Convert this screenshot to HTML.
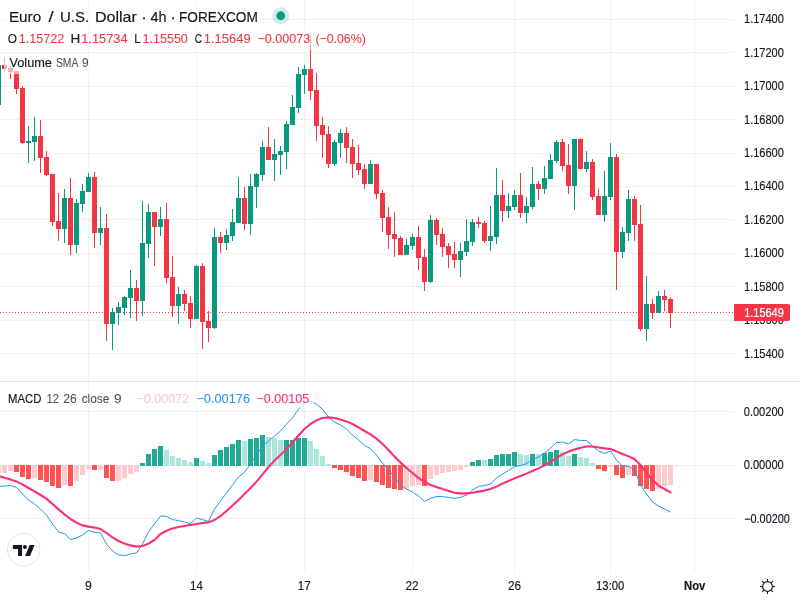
<!DOCTYPE html>
<html><head><meta charset="utf-8"><title>EURUSD chart</title>
<style>
html,body{margin:0;padding:0;background:#fff;width:800px;height:600px;overflow:hidden}
svg{display:block}
text{font-family:"Liberation Sans",sans-serif;white-space:pre}
</style></head><body>
<svg width="800" height="600" viewBox="0 0 800 600">
<rect width="800" height="600" fill="#fff"/>
<g fill="#2a2e39" fill-opacity="0.065" shape-rendering="crispEdges">
<rect x="0" y="19" width="734" height="1"/>
<rect x="0" y="52" width="734" height="1"/>
<rect x="0" y="86" width="734" height="1"/>
<rect x="0" y="119" width="734" height="1"/>
<rect x="0" y="153" width="734" height="1"/>
<rect x="0" y="186" width="734" height="1"/>
<rect x="0" y="219" width="734" height="1"/>
<rect x="0" y="253" width="734" height="1"/>
<rect x="0" y="286" width="734" height="1"/>
<rect x="0" y="320" width="734" height="1"/>
<rect x="0" y="353" width="734" height="1"/>
<rect x="0" y="411" width="734" height="1"/>
<rect x="0" y="465" width="734" height="1"/>
<rect x="0" y="518" width="734" height="1"/>
<rect x="88" y="0" width="1" height="572"/>
<rect x="196" y="0" width="1" height="572"/>
<rect x="304" y="0" width="1" height="572"/>
<rect x="412" y="0" width="1" height="572"/>
<rect x="514" y="0" width="1" height="572"/>
<rect x="610" y="0" width="1" height="572"/>
<rect x="694" y="0" width="1" height="572"/>
</g>
<rect x="0" y="381" width="800" height="1" fill="#e0e3eb" shape-rendering="crispEdges"/>
<g fill="#089981" shape-rendering="crispEdges">
<rect x="-2" y="65" width="1" height="40"/><rect x="-4" y="65" width="5" height="40"/>
<rect x="28" y="126" width="1" height="37"/><rect x="26" y="141" width="5" height="2"/>
<rect x="34" y="117" width="1" height="44"/><rect x="32" y="136" width="5" height="6"/>
<rect x="64" y="189" width="1" height="54"/><rect x="62" y="198" width="5" height="31"/>
<rect x="76" y="199" width="1" height="54"/><rect x="74" y="203" width="5" height="42"/>
<rect x="82" y="184" width="1" height="28"/><rect x="80" y="191" width="5" height="13"/>
<rect x="88" y="173" width="1" height="19"/><rect x="86" y="177" width="5" height="15"/>
<rect x="100" y="207" width="1" height="38"/><rect x="98" y="228" width="5" height="5"/>
<rect x="112" y="308" width="1" height="42"/><rect x="110" y="312" width="5" height="12"/>
<rect x="118" y="302" width="1" height="23"/><rect x="116" y="307" width="5" height="6"/>
<rect x="124" y="296" width="1" height="19"/><rect x="122" y="297" width="5" height="11"/>
<rect x="130" y="270" width="1" height="48"/><rect x="128" y="288" width="5" height="10"/>
<rect x="142" y="201" width="1" height="115"/><rect x="140" y="243" width="5" height="58"/>
<rect x="148" y="204" width="1" height="54"/><rect x="146" y="212" width="5" height="32"/>
<rect x="160" y="207" width="1" height="29"/><rect x="158" y="219" width="5" height="8"/>
<rect x="178" y="287" width="1" height="37"/><rect x="176" y="294" width="5" height="12"/>
<rect x="196" y="265" width="1" height="54"/><rect x="194" y="266" width="5" height="53"/>
<rect x="214" y="228" width="1" height="101"/><rect x="212" y="237" width="5" height="91"/>
<rect x="226" y="229" width="1" height="21"/><rect x="224" y="235" width="5" height="8"/>
<rect x="232" y="209" width="1" height="32"/><rect x="230" y="222" width="5" height="14"/>
<rect x="238" y="177" width="1" height="46"/><rect x="236" y="198" width="5" height="25"/>
<rect x="250" y="174" width="1" height="61"/><rect x="248" y="186" width="5" height="38"/>
<rect x="256" y="173" width="1" height="35"/><rect x="254" y="174" width="5" height="13"/>
<rect x="262" y="141" width="1" height="40"/><rect x="260" y="147" width="5" height="28"/>
<rect x="274" y="139" width="1" height="42"/><rect x="272" y="154" width="5" height="6"/>
<rect x="280" y="146" width="1" height="29"/><rect x="278" y="151" width="5" height="4"/>
<rect x="286" y="121" width="1" height="48"/><rect x="284" y="124" width="5" height="28"/>
<rect x="292" y="95" width="1" height="30"/><rect x="290" y="107" width="5" height="18"/>
<rect x="298" y="67" width="1" height="46"/><rect x="296" y="74" width="5" height="34"/>
<rect x="304" y="65" width="1" height="29"/><rect x="302" y="69" width="5" height="6"/>
<rect x="334" y="140" width="1" height="26"/><rect x="332" y="142" width="5" height="22"/>
<rect x="340" y="129" width="1" height="29"/><rect x="338" y="133" width="5" height="10"/>
<rect x="370" y="160" width="1" height="24"/><rect x="368" y="164" width="5" height="20"/>
<rect x="406" y="239" width="1" height="16"/><rect x="404" y="245" width="5" height="10"/>
<rect x="412" y="234" width="1" height="16"/><rect x="410" y="237" width="5" height="9"/>
<rect x="430" y="215" width="1" height="68"/><rect x="428" y="220" width="5" height="62"/>
<rect x="460" y="243" width="1" height="34"/><rect x="458" y="251" width="5" height="9"/>
<rect x="466" y="219" width="1" height="37"/><rect x="464" y="241" width="5" height="11"/>
<rect x="472" y="219" width="1" height="27"/><rect x="470" y="222" width="5" height="20"/>
<rect x="490" y="206" width="1" height="45"/><rect x="488" y="236" width="5" height="5"/>
<rect x="496" y="168" width="1" height="76"/><rect x="494" y="195" width="5" height="42"/>
<rect x="508" y="193" width="1" height="25"/><rect x="506" y="206" width="5" height="5"/>
<rect x="514" y="190" width="1" height="20"/><rect x="512" y="195" width="5" height="12"/>
<rect x="526" y="197" width="1" height="26"/><rect x="524" y="206" width="5" height="7"/>
<rect x="532" y="167" width="1" height="42"/><rect x="530" y="184" width="5" height="23"/>
<rect x="544" y="166" width="1" height="28"/><rect x="542" y="178" width="5" height="11"/>
<rect x="550" y="154" width="1" height="25"/><rect x="548" y="160" width="5" height="19"/>
<rect x="556" y="140" width="1" height="23"/><rect x="554" y="142" width="5" height="19"/>
<rect x="574" y="139" width="1" height="71"/><rect x="572" y="139" width="5" height="47"/>
<rect x="586" y="151" width="1" height="21"/><rect x="584" y="162" width="5" height="7"/>
<rect x="604" y="171" width="1" height="51"/><rect x="602" y="196" width="5" height="19"/>
<rect x="610" y="143" width="1" height="57"/><rect x="608" y="157" width="5" height="40"/>
<rect x="622" y="227" width="1" height="31"/><rect x="620" y="232" width="5" height="20"/>
<rect x="628" y="190" width="1" height="51"/><rect x="626" y="199" width="5" height="34"/>
<rect x="646" y="276" width="1" height="65"/><rect x="644" y="304" width="5" height="25"/>
<rect x="658" y="291" width="1" height="22"/><rect x="656" y="296" width="5" height="17"/>
</g>
<g fill="#f23645" shape-rendering="crispEdges">
<rect x="4" y="57" width="1" height="15"/><rect x="2" y="65" width="5" height="4"/>
<rect x="10" y="66" width="1" height="13"/><rect x="8" y="68" width="5" height="4"/>
<rect x="16" y="71" width="1" height="23"/><rect x="14" y="71" width="5" height="18"/>
<rect x="22" y="86" width="1" height="58"/><rect x="20" y="88" width="5" height="55"/>
<rect x="40" y="120" width="1" height="53"/><rect x="38" y="136" width="5" height="22"/>
<rect x="46" y="151" width="1" height="25"/><rect x="44" y="157" width="5" height="18"/>
<rect x="52" y="174" width="1" height="52"/><rect x="50" y="174" width="5" height="48"/>
<rect x="58" y="193" width="1" height="48"/><rect x="56" y="221" width="5" height="8"/>
<rect x="70" y="178" width="1" height="77"/><rect x="68" y="198" width="5" height="47"/>
<rect x="94" y="172" width="1" height="76"/><rect x="92" y="177" width="5" height="56"/>
<rect x="106" y="214" width="1" height="127"/><rect x="104" y="228" width="5" height="96"/>
<rect x="136" y="280" width="1" height="41"/><rect x="134" y="288" width="5" height="13"/>
<rect x="154" y="212" width="1" height="54"/><rect x="152" y="212" width="5" height="15"/>
<rect x="166" y="203" width="1" height="80"/><rect x="164" y="219" width="5" height="59"/>
<rect x="172" y="256" width="1" height="61"/><rect x="170" y="277" width="5" height="29"/>
<rect x="184" y="290" width="1" height="21"/><rect x="182" y="294" width="5" height="10"/>
<rect x="190" y="296" width="1" height="32"/><rect x="188" y="303" width="5" height="16"/>
<rect x="202" y="263" width="1" height="86"/><rect x="200" y="266" width="5" height="56"/>
<rect x="208" y="311" width="1" height="31"/><rect x="206" y="321" width="5" height="7"/>
<rect x="220" y="232" width="1" height="21"/><rect x="218" y="237" width="5" height="6"/>
<rect x="244" y="187" width="1" height="43"/><rect x="242" y="198" width="5" height="26"/>
<rect x="268" y="127" width="1" height="33"/><rect x="266" y="147" width="5" height="13"/>
<rect x="310" y="36" width="1" height="64"/><rect x="308" y="69" width="5" height="22"/>
<rect x="316" y="73" width="1" height="68"/><rect x="314" y="90" width="5" height="36"/>
<rect x="322" y="117" width="1" height="41"/><rect x="320" y="125" width="5" height="10"/>
<rect x="328" y="126" width="1" height="42"/><rect x="326" y="134" width="5" height="30"/>
<rect x="346" y="127" width="1" height="36"/><rect x="344" y="133" width="5" height="15"/>
<rect x="352" y="139" width="1" height="39"/><rect x="350" y="147" width="5" height="17"/>
<rect x="358" y="145" width="1" height="30"/><rect x="356" y="163" width="5" height="7"/>
<rect x="364" y="164" width="1" height="25"/><rect x="362" y="169" width="5" height="15"/>
<rect x="376" y="164" width="1" height="35"/><rect x="374" y="164" width="5" height="30"/>
<rect x="382" y="190" width="1" height="42"/><rect x="380" y="193" width="5" height="25"/>
<rect x="388" y="207" width="1" height="42"/><rect x="386" y="217" width="5" height="18"/>
<rect x="394" y="212" width="1" height="45"/><rect x="392" y="234" width="5" height="5"/>
<rect x="400" y="236" width="1" height="19"/><rect x="398" y="238" width="5" height="17"/>
<rect x="418" y="226" width="1" height="44"/><rect x="416" y="237" width="5" height="21"/>
<rect x="424" y="249" width="1" height="42"/><rect x="422" y="257" width="5" height="25"/>
<rect x="436" y="218" width="1" height="27"/><rect x="434" y="220" width="5" height="15"/>
<rect x="442" y="228" width="1" height="29"/><rect x="440" y="234" width="5" height="13"/>
<rect x="448" y="243" width="1" height="25"/><rect x="446" y="246" width="5" height="9"/>
<rect x="454" y="242" width="1" height="26"/><rect x="452" y="254" width="5" height="6"/>
<rect x="478" y="217" width="1" height="11"/><rect x="476" y="222" width="5" height="2"/>
<rect x="484" y="221" width="1" height="22"/><rect x="482" y="223" width="5" height="18"/>
<rect x="502" y="180" width="1" height="42"/><rect x="500" y="195" width="5" height="16"/>
<rect x="520" y="173" width="1" height="45"/><rect x="518" y="195" width="5" height="18"/>
<rect x="538" y="181" width="1" height="19"/><rect x="536" y="184" width="5" height="5"/>
<rect x="562" y="139" width="1" height="32"/><rect x="560" y="142" width="5" height="24"/>
<rect x="568" y="144" width="1" height="50"/><rect x="566" y="165" width="5" height="21"/>
<rect x="580" y="138" width="1" height="31"/><rect x="578" y="139" width="5" height="30"/>
<rect x="592" y="159" width="1" height="41"/><rect x="590" y="162" width="5" height="35"/>
<rect x="598" y="189" width="1" height="26"/><rect x="596" y="196" width="5" height="19"/>
<rect x="616" y="154" width="1" height="136"/><rect x="614" y="157" width="5" height="95"/>
<rect x="634" y="196" width="1" height="45"/><rect x="632" y="199" width="5" height="26"/>
<rect x="640" y="205" width="1" height="126"/><rect x="638" y="224" width="5" height="105"/>
<rect x="652" y="299" width="1" height="20"/><rect x="650" y="304" width="5" height="9"/>
<rect x="664" y="290" width="1" height="21"/><rect x="662" y="296" width="5" height="4"/>
<rect x="670" y="297" width="1" height="31"/><rect x="668" y="299" width="5" height="14"/>
</g>
<g fill="#f23645" shape-rendering="crispEdges">
<rect x="0" y="312" width="1" height="1"/><rect x="3" y="312" width="1" height="1"/><rect x="6" y="312" width="1" height="1"/><rect x="9" y="312" width="1" height="1"/><rect x="12" y="312" width="1" height="1"/><rect x="15" y="312" width="1" height="1"/><rect x="18" y="312" width="1" height="1"/><rect x="21" y="312" width="1" height="1"/><rect x="24" y="312" width="1" height="1"/><rect x="27" y="312" width="1" height="1"/><rect x="30" y="312" width="1" height="1"/><rect x="33" y="312" width="1" height="1"/><rect x="36" y="312" width="1" height="1"/><rect x="39" y="312" width="1" height="1"/><rect x="42" y="312" width="1" height="1"/><rect x="45" y="312" width="1" height="1"/><rect x="48" y="312" width="1" height="1"/><rect x="51" y="312" width="1" height="1"/><rect x="54" y="312" width="1" height="1"/><rect x="57" y="312" width="1" height="1"/><rect x="60" y="312" width="1" height="1"/><rect x="63" y="312" width="1" height="1"/><rect x="66" y="312" width="1" height="1"/><rect x="69" y="312" width="1" height="1"/><rect x="72" y="312" width="1" height="1"/><rect x="75" y="312" width="1" height="1"/><rect x="78" y="312" width="1" height="1"/><rect x="81" y="312" width="1" height="1"/><rect x="84" y="312" width="1" height="1"/><rect x="87" y="312" width="1" height="1"/><rect x="90" y="312" width="1" height="1"/><rect x="93" y="312" width="1" height="1"/><rect x="96" y="312" width="1" height="1"/><rect x="99" y="312" width="1" height="1"/><rect x="102" y="312" width="1" height="1"/><rect x="105" y="312" width="1" height="1"/><rect x="108" y="312" width="1" height="1"/><rect x="111" y="312" width="1" height="1"/><rect x="114" y="312" width="1" height="1"/><rect x="117" y="312" width="1" height="1"/><rect x="120" y="312" width="1" height="1"/><rect x="123" y="312" width="1" height="1"/><rect x="126" y="312" width="1" height="1"/><rect x="129" y="312" width="1" height="1"/><rect x="132" y="312" width="1" height="1"/><rect x="135" y="312" width="1" height="1"/><rect x="138" y="312" width="1" height="1"/><rect x="141" y="312" width="1" height="1"/><rect x="144" y="312" width="1" height="1"/><rect x="147" y="312" width="1" height="1"/><rect x="150" y="312" width="1" height="1"/><rect x="153" y="312" width="1" height="1"/><rect x="156" y="312" width="1" height="1"/><rect x="159" y="312" width="1" height="1"/><rect x="162" y="312" width="1" height="1"/><rect x="165" y="312" width="1" height="1"/><rect x="168" y="312" width="1" height="1"/><rect x="171" y="312" width="1" height="1"/><rect x="174" y="312" width="1" height="1"/><rect x="177" y="312" width="1" height="1"/><rect x="180" y="312" width="1" height="1"/><rect x="183" y="312" width="1" height="1"/><rect x="186" y="312" width="1" height="1"/><rect x="189" y="312" width="1" height="1"/><rect x="192" y="312" width="1" height="1"/><rect x="195" y="312" width="1" height="1"/><rect x="198" y="312" width="1" height="1"/><rect x="201" y="312" width="1" height="1"/><rect x="204" y="312" width="1" height="1"/><rect x="207" y="312" width="1" height="1"/><rect x="210" y="312" width="1" height="1"/><rect x="213" y="312" width="1" height="1"/><rect x="216" y="312" width="1" height="1"/><rect x="219" y="312" width="1" height="1"/><rect x="222" y="312" width="1" height="1"/><rect x="225" y="312" width="1" height="1"/><rect x="228" y="312" width="1" height="1"/><rect x="231" y="312" width="1" height="1"/><rect x="234" y="312" width="1" height="1"/><rect x="237" y="312" width="1" height="1"/><rect x="240" y="312" width="1" height="1"/><rect x="243" y="312" width="1" height="1"/><rect x="246" y="312" width="1" height="1"/><rect x="249" y="312" width="1" height="1"/><rect x="252" y="312" width="1" height="1"/><rect x="255" y="312" width="1" height="1"/><rect x="258" y="312" width="1" height="1"/><rect x="261" y="312" width="1" height="1"/><rect x="264" y="312" width="1" height="1"/><rect x="267" y="312" width="1" height="1"/><rect x="270" y="312" width="1" height="1"/><rect x="273" y="312" width="1" height="1"/><rect x="276" y="312" width="1" height="1"/><rect x="279" y="312" width="1" height="1"/><rect x="282" y="312" width="1" height="1"/><rect x="285" y="312" width="1" height="1"/><rect x="288" y="312" width="1" height="1"/><rect x="291" y="312" width="1" height="1"/><rect x="294" y="312" width="1" height="1"/><rect x="297" y="312" width="1" height="1"/><rect x="300" y="312" width="1" height="1"/><rect x="303" y="312" width="1" height="1"/><rect x="306" y="312" width="1" height="1"/><rect x="309" y="312" width="1" height="1"/><rect x="312" y="312" width="1" height="1"/><rect x="315" y="312" width="1" height="1"/><rect x="318" y="312" width="1" height="1"/><rect x="321" y="312" width="1" height="1"/><rect x="324" y="312" width="1" height="1"/><rect x="327" y="312" width="1" height="1"/><rect x="330" y="312" width="1" height="1"/><rect x="333" y="312" width="1" height="1"/><rect x="336" y="312" width="1" height="1"/><rect x="339" y="312" width="1" height="1"/><rect x="342" y="312" width="1" height="1"/><rect x="345" y="312" width="1" height="1"/><rect x="348" y="312" width="1" height="1"/><rect x="351" y="312" width="1" height="1"/><rect x="354" y="312" width="1" height="1"/><rect x="357" y="312" width="1" height="1"/><rect x="360" y="312" width="1" height="1"/><rect x="363" y="312" width="1" height="1"/><rect x="366" y="312" width="1" height="1"/><rect x="369" y="312" width="1" height="1"/><rect x="372" y="312" width="1" height="1"/><rect x="375" y="312" width="1" height="1"/><rect x="378" y="312" width="1" height="1"/><rect x="381" y="312" width="1" height="1"/><rect x="384" y="312" width="1" height="1"/><rect x="387" y="312" width="1" height="1"/><rect x="390" y="312" width="1" height="1"/><rect x="393" y="312" width="1" height="1"/><rect x="396" y="312" width="1" height="1"/><rect x="399" y="312" width="1" height="1"/><rect x="402" y="312" width="1" height="1"/><rect x="405" y="312" width="1" height="1"/><rect x="408" y="312" width="1" height="1"/><rect x="411" y="312" width="1" height="1"/><rect x="414" y="312" width="1" height="1"/><rect x="417" y="312" width="1" height="1"/><rect x="420" y="312" width="1" height="1"/><rect x="423" y="312" width="1" height="1"/><rect x="426" y="312" width="1" height="1"/><rect x="429" y="312" width="1" height="1"/><rect x="432" y="312" width="1" height="1"/><rect x="435" y="312" width="1" height="1"/><rect x="438" y="312" width="1" height="1"/><rect x="441" y="312" width="1" height="1"/><rect x="444" y="312" width="1" height="1"/><rect x="447" y="312" width="1" height="1"/><rect x="450" y="312" width="1" height="1"/><rect x="453" y="312" width="1" height="1"/><rect x="456" y="312" width="1" height="1"/><rect x="459" y="312" width="1" height="1"/><rect x="462" y="312" width="1" height="1"/><rect x="465" y="312" width="1" height="1"/><rect x="468" y="312" width="1" height="1"/><rect x="471" y="312" width="1" height="1"/><rect x="474" y="312" width="1" height="1"/><rect x="477" y="312" width="1" height="1"/><rect x="480" y="312" width="1" height="1"/><rect x="483" y="312" width="1" height="1"/><rect x="486" y="312" width="1" height="1"/><rect x="489" y="312" width="1" height="1"/><rect x="492" y="312" width="1" height="1"/><rect x="495" y="312" width="1" height="1"/><rect x="498" y="312" width="1" height="1"/><rect x="501" y="312" width="1" height="1"/><rect x="504" y="312" width="1" height="1"/><rect x="507" y="312" width="1" height="1"/><rect x="510" y="312" width="1" height="1"/><rect x="513" y="312" width="1" height="1"/><rect x="516" y="312" width="1" height="1"/><rect x="519" y="312" width="1" height="1"/><rect x="522" y="312" width="1" height="1"/><rect x="525" y="312" width="1" height="1"/><rect x="528" y="312" width="1" height="1"/><rect x="531" y="312" width="1" height="1"/><rect x="534" y="312" width="1" height="1"/><rect x="537" y="312" width="1" height="1"/><rect x="540" y="312" width="1" height="1"/><rect x="543" y="312" width="1" height="1"/><rect x="546" y="312" width="1" height="1"/><rect x="549" y="312" width="1" height="1"/><rect x="552" y="312" width="1" height="1"/><rect x="555" y="312" width="1" height="1"/><rect x="558" y="312" width="1" height="1"/><rect x="561" y="312" width="1" height="1"/><rect x="564" y="312" width="1" height="1"/><rect x="567" y="312" width="1" height="1"/><rect x="570" y="312" width="1" height="1"/><rect x="573" y="312" width="1" height="1"/><rect x="576" y="312" width="1" height="1"/><rect x="579" y="312" width="1" height="1"/><rect x="582" y="312" width="1" height="1"/><rect x="585" y="312" width="1" height="1"/><rect x="588" y="312" width="1" height="1"/><rect x="591" y="312" width="1" height="1"/><rect x="594" y="312" width="1" height="1"/><rect x="597" y="312" width="1" height="1"/><rect x="600" y="312" width="1" height="1"/><rect x="603" y="312" width="1" height="1"/><rect x="606" y="312" width="1" height="1"/><rect x="609" y="312" width="1" height="1"/><rect x="612" y="312" width="1" height="1"/><rect x="615" y="312" width="1" height="1"/><rect x="618" y="312" width="1" height="1"/><rect x="621" y="312" width="1" height="1"/><rect x="624" y="312" width="1" height="1"/><rect x="627" y="312" width="1" height="1"/><rect x="630" y="312" width="1" height="1"/><rect x="633" y="312" width="1" height="1"/><rect x="636" y="312" width="1" height="1"/><rect x="639" y="312" width="1" height="1"/><rect x="642" y="312" width="1" height="1"/><rect x="645" y="312" width="1" height="1"/><rect x="648" y="312" width="1" height="1"/><rect x="651" y="312" width="1" height="1"/><rect x="654" y="312" width="1" height="1"/><rect x="657" y="312" width="1" height="1"/><rect x="660" y="312" width="1" height="1"/><rect x="663" y="312" width="1" height="1"/><rect x="666" y="312" width="1" height="1"/><rect x="669" y="312" width="1" height="1"/><rect x="672" y="312" width="1" height="1"/><rect x="675" y="312" width="1" height="1"/><rect x="678" y="312" width="1" height="1"/><rect x="681" y="312" width="1" height="1"/><rect x="684" y="312" width="1" height="1"/><rect x="687" y="312" width="1" height="1"/><rect x="690" y="312" width="1" height="1"/><rect x="693" y="312" width="1" height="1"/><rect x="696" y="312" width="1" height="1"/><rect x="699" y="312" width="1" height="1"/><rect x="702" y="312" width="1" height="1"/><rect x="705" y="312" width="1" height="1"/><rect x="708" y="312" width="1" height="1"/><rect x="711" y="312" width="1" height="1"/><rect x="714" y="312" width="1" height="1"/><rect x="717" y="312" width="1" height="1"/><rect x="720" y="312" width="1" height="1"/><rect x="723" y="312" width="1" height="1"/><rect x="726" y="312" width="1" height="1"/><rect x="729" y="312" width="1" height="1"/><rect x="732" y="312" width="1" height="1"/>
</g>
<g fill="#ff5252" shape-rendering="crispEdges">
<rect x="14" y="465" width="5" height="7"/>
<rect x="20" y="465" width="5" height="12"/>
<rect x="26" y="465" width="5" height="14"/>
<rect x="38" y="465" width="5" height="15"/>
<rect x="44" y="465" width="5" height="17"/>
<rect x="50" y="465" width="5" height="21"/>
<rect x="56" y="465" width="5" height="23"/>
<rect x="68" y="465" width="5" height="21"/>
<rect x="92" y="465" width="5" height="5"/>
<rect x="104" y="465" width="5" height="13"/>
<rect x="110" y="465" width="5" height="16"/>
<rect x="332" y="465" width="5" height="3"/>
<rect x="338" y="465" width="5" height="5"/>
<rect x="344" y="465" width="5" height="7"/>
<rect x="350" y="465" width="5" height="11"/>
<rect x="356" y="465" width="5" height="13"/>
<rect x="362" y="465" width="5" height="16"/>
<rect x="374" y="465" width="5" height="17"/>
<rect x="380" y="465" width="5" height="20"/>
<rect x="386" y="465" width="5" height="23"/>
<rect x="392" y="465" width="5" height="24"/>
<rect x="398" y="465" width="5" height="25"/>
<rect x="422" y="465" width="5" height="21"/>
<rect x="596" y="465" width="5" height="4"/>
<rect x="602" y="465" width="5" height="6"/>
<rect x="614" y="465" width="5" height="10"/>
<rect x="620" y="465" width="5" height="13"/>
<rect x="632" y="465" width="5" height="11"/>
<rect x="638" y="465" width="5" height="21"/>
<rect x="644" y="465" width="5" height="24"/>
<rect x="650" y="465" width="5" height="26"/>
</g>
<g fill="#fccbcd" shape-rendering="crispEdges">
<rect x="-4" y="465" width="5" height="8"/>
<rect x="2" y="465" width="5" height="8"/>
<rect x="8" y="465" width="5" height="6"/>
<rect x="32" y="465" width="5" height="13"/>
<rect x="62" y="465" width="5" height="20"/>
<rect x="74" y="465" width="5" height="16"/>
<rect x="80" y="465" width="5" height="10"/>
<rect x="86" y="465" width="5" height="4"/>
<rect x="98" y="465" width="5" height="5"/>
<rect x="116" y="465" width="5" height="16"/>
<rect x="122" y="465" width="5" height="13"/>
<rect x="128" y="465" width="5" height="9"/>
<rect x="134" y="465" width="5" height="7"/>
<rect x="368" y="465" width="5" height="15"/>
<rect x="404" y="465" width="5" height="24"/>
<rect x="410" y="465" width="5" height="21"/>
<rect x="416" y="465" width="5" height="20"/>
<rect x="428" y="465" width="5" height="14"/>
<rect x="434" y="465" width="5" height="10"/>
<rect x="440" y="465" width="5" height="8"/>
<rect x="446" y="465" width="5" height="7"/>
<rect x="452" y="465" width="5" height="6"/>
<rect x="458" y="465" width="5" height="5"/>
<rect x="464" y="465" width="5" height="2"/>
<rect x="608" y="465" width="5" height="2"/>
<rect x="626" y="465" width="5" height="10"/>
<rect x="656" y="465" width="5" height="24"/>
<rect x="662" y="465" width="5" height="21"/>
<rect x="668" y="465" width="5" height="20"/>
</g>
<g fill="#22ab94" shape-rendering="crispEdges">
<rect x="140" y="463" width="5" height="3"/>
<rect x="146" y="454" width="5" height="12"/>
<rect x="152" y="449" width="5" height="17"/>
<rect x="158" y="446" width="5" height="20"/>
<rect x="194" y="458" width="5" height="8"/>
<rect x="212" y="455" width="5" height="11"/>
<rect x="218" y="450" width="5" height="16"/>
<rect x="224" y="447" width="5" height="19"/>
<rect x="230" y="444" width="5" height="22"/>
<rect x="236" y="440" width="5" height="26"/>
<rect x="248" y="439" width="5" height="27"/>
<rect x="254" y="438" width="5" height="28"/>
<rect x="260" y="435" width="5" height="31"/>
<rect x="284" y="440" width="5" height="26"/>
<rect x="290" y="440" width="5" height="26"/>
<rect x="296" y="438" width="5" height="28"/>
<rect x="302" y="438" width="5" height="28"/>
<rect x="470" y="462" width="5" height="4"/>
<rect x="476" y="460" width="5" height="6"/>
<rect x="488" y="459" width="5" height="7"/>
<rect x="494" y="455" width="5" height="11"/>
<rect x="500" y="454" width="5" height="12"/>
<rect x="506" y="454" width="5" height="12"/>
<rect x="512" y="452" width="5" height="14"/>
<rect x="530" y="454" width="5" height="12"/>
<rect x="542" y="453" width="5" height="13"/>
<rect x="548" y="452" width="5" height="14"/>
<rect x="554" y="450" width="5" height="16"/>
<rect x="572" y="454" width="5" height="12"/>
</g>
<g fill="#ace5dc" shape-rendering="crispEdges">
<rect x="164" y="450" width="5" height="16"/>
<rect x="170" y="456" width="5" height="10"/>
<rect x="176" y="458" width="5" height="8"/>
<rect x="182" y="460" width="5" height="6"/>
<rect x="188" y="462" width="5" height="4"/>
<rect x="200" y="461" width="5" height="5"/>
<rect x="206" y="463" width="5" height="3"/>
<rect x="242" y="441" width="5" height="25"/>
<rect x="266" y="437" width="5" height="29"/>
<rect x="272" y="438" width="5" height="28"/>
<rect x="278" y="440" width="5" height="26"/>
<rect x="308" y="441" width="5" height="25"/>
<rect x="314" y="449" width="5" height="17"/>
<rect x="320" y="456" width="5" height="10"/>
<rect x="326" y="464" width="5" height="2"/>
<rect x="482" y="460" width="5" height="6"/>
<rect x="518" y="454" width="5" height="12"/>
<rect x="524" y="455" width="5" height="11"/>
<rect x="536" y="454" width="5" height="12"/>
<rect x="560" y="452" width="5" height="14"/>
<rect x="566" y="456" width="5" height="10"/>
<rect x="578" y="457" width="5" height="9"/>
<rect x="584" y="458" width="5" height="8"/>
<rect x="590" y="463" width="5" height="3"/>
</g>
<polyline points="-1.5,486.5 4.5,486.0 10.5,485.4 16.5,487.4 22.5,494.0 28.5,500.0 34.5,504.0 40.5,509.0 46.5,515.0 52.5,524.0 58.5,532.0 64.5,533.6 70.5,539.6 76.5,538.0 82.5,535.0 88.5,530.4 94.5,532.4 100.5,533.0 106.5,544.0 112.5,551.0 118.5,555.0 124.5,555.6 130.5,554.0 136.5,553.0 142.5,544.0 148.5,532.0 154.5,524.0 160.5,516.0 166.5,516.4 172.5,519.6 178.5,520.6 184.5,522.0 190.5,523.6 196.5,518.0 202.5,519.6 208.5,521.4 214.5,509.0 220.5,501.0 226.5,493.0 232.5,485.0 238.5,477.0 244.5,472.4 250.5,464.0 256.5,455.0 262.5,446.0 268.5,441.0 274.5,436.0 280.5,431.0 286.5,424.0 292.5,418.0 298.5,409.0 304.5,403.0 310.5,401.0 316.5,404.4 322.5,409.0 328.5,417.0 334.5,422.0 340.5,425.0 346.5,429.0 352.5,435.0 358.5,440.0 364.5,445.6 370.5,448.6 376.5,455.0 382.5,463.0 388.5,470.0 394.5,477.0 400.5,485.0 406.5,489.0 412.5,492.0 418.5,496.0 424.5,501.4 430.5,498.4 436.5,496.6 442.5,496.6 448.5,497.4 454.5,498.4 460.5,497.4 466.5,495.0 472.5,490.0 478.5,486.4 484.5,485.6 490.5,484.0 496.5,478.0 502.5,474.0 508.5,470.6 514.5,466.6 520.5,465.6 526.5,463.6 532.5,459.6 538.5,457.0 544.5,453.0 550.5,448.0 556.5,442.6 562.5,442.0 568.5,444.0 574.5,439.6 580.5,440.4 586.5,440.5 592.5,446.0 598.5,451.2 604.5,453.4 610.5,451.0 616.5,460.0 622.5,466.0 628.5,466.4 634.5,469.4 640.5,485.0 646.5,494.0 652.5,502.0 658.5,506.0 664.5,509.0 670.5,512.0" fill="none" stroke="#2196f3" stroke-width="1" stroke-linejoin="round" stroke-linecap="butt"/>
<polyline points="-1.5,476.0 4.5,477.8 10.5,479.6 16.5,481.4 22.5,484.4 28.5,488.0 34.5,491.4 40.5,495.0 46.5,498.6 52.5,504.0 58.5,509.4 64.5,514.4 70.5,519.0 76.5,522.6 82.5,525.4 88.5,526.6 94.5,527.6 100.5,529.0 106.5,533.0 112.5,537.4 118.5,541.0 124.5,543.6 130.5,545.4 136.5,546.6 142.5,546.0 148.5,543.6 154.5,540.0 160.5,534.0 166.5,530.8 172.5,528.4 178.5,527.0 184.5,526.0 190.5,525.0 196.5,524.0 202.5,523.0 208.5,522.4 214.5,520.0 220.5,516.0 226.5,511.0 232.5,505.4 238.5,500.0 244.5,494.0 250.5,488.0 256.5,481.6 262.5,474.4 268.5,467.0 274.5,460.6 280.5,455.0 286.5,449.0 292.5,442.5 298.5,435.5 304.5,429.0 310.5,424.0 316.5,420.4 322.5,418.0 328.5,417.4 334.5,418.0 340.5,419.4 346.5,421.4 352.5,424.0 358.5,427.4 364.5,431.0 370.5,434.4 376.5,438.6 382.5,444.0 388.5,450.0 394.5,456.6 400.5,462.6 406.5,468.0 412.5,473.0 418.5,478.0 424.5,482.0 430.5,485.0 436.5,487.0 442.5,489.0 448.5,490.8 454.5,492.8 460.5,493.4 466.5,493.4 472.5,492.8 478.5,491.6 484.5,490.6 490.5,489.0 496.5,486.6 502.5,483.6 508.5,481.0 514.5,478.4 520.5,476.0 526.5,473.6 532.5,471.0 538.5,468.4 544.5,465.4 550.5,462.0 556.5,458.0 562.5,454.4 568.5,451.6 574.5,449.4 580.5,447.8 586.5,446.4 592.5,446.5 598.5,447.5 604.5,448.4 610.5,449.0 616.5,451.4 622.5,454.0 628.5,456.4 634.5,459.0 640.5,465.0 646.5,473.0 652.5,480.0 658.5,485.6 664.5,489.0 670.5,492.4" fill="none" stroke="#ff2e72" stroke-width="2.1" stroke-linejoin="round" stroke-linecap="round"/>
<g fill="#fff" fill-opacity="0.6">
<rect x="4" y="5" width="258" height="22"/>
<rect x="4" y="28" width="366" height="22"/>
<rect x="4" y="54" width="88" height="20"/>
<rect x="4" y="388" width="310" height="20"/>
</g>
<circle cx="280.75" cy="15.75" r="8.5" fill="#089981" fill-opacity="0.18"/><circle cx="280.75" cy="15.75" r="4.4" fill="#089981"/>
<circle cx="23.7" cy="549.75" r="16.3" fill="#fff" stroke="#e4e5e9" stroke-width="1"/>
<g fill="#131722"><path d="M12.9 545.1H22.1V555.9H18V549H12.9zM29.7 545.1H34.5L30 555.9H25.1z"/><circle cx="24.9" cy="547" r="1.95"/></g>
<g stroke="#131722" stroke-width="1.1" fill="none" stroke-linecap="butt"><circle cx="767.5" cy="586.5" r="4.9"/><line x1="772.70" y1="586.50" x2="775.00" y2="586.50"/><line x1="771.18" y1="590.18" x2="772.80" y2="591.80"/><line x1="767.50" y1="591.70" x2="767.50" y2="594.00"/><line x1="763.82" y1="590.18" x2="762.20" y2="591.80"/><line x1="762.30" y1="586.50" x2="760.00" y2="586.50"/><line x1="763.82" y1="582.82" x2="762.20" y2="581.20"/><line x1="767.50" y1="581.30" x2="767.50" y2="579.00"/><line x1="771.18" y1="582.82" x2="772.80" y2="581.20"/></g>
<g class="t-title">
<text transform="translate(8.90 21.5) scale(1.0928 1)" fill="#131722" font-size="14" stroke="#131722" stroke-width="0.15">Euro</text>
<text transform="translate(48.40 21.5) scale(1.3206 1)" fill="#131722" font-size="14" stroke="#131722" stroke-width="0.15">/</text>
<text transform="translate(59.96 21.5) scale(1.0702 1)" fill="#131722" font-size="14" stroke="#131722" stroke-width="0.15">U.S.</text>
<text transform="translate(94.95 21.5) scale(1.1454 1)" fill="#131722" font-size="14" stroke="#131722" stroke-width="0.15">Dollar</text>
<text transform="translate(141.70 21.5) scale(1.0000 1)" fill="#131722" font-size="14" stroke="#131722" stroke-width="0.45">·</text>
<text transform="translate(150.52 21.5) scale(1.0297 1)" fill="#131722" font-size="14" stroke="#131722" stroke-width="0.15">4h</text>
<text transform="translate(170.70 21.5) scale(1.0000 1)" fill="#131722" font-size="14" stroke="#131722" stroke-width="0.45">·</text>
<text transform="translate(178.93 21.5) scale(0.9765 1)" fill="#131722" font-size="14" stroke="#131722" stroke-width="0.15">FOREXCOM</text>
</g>
<g class="t-ohlc">
<text transform="translate(7.79 42.8) scale(0.9484 1)" fill="#131722" font-size="12.5" stroke="#131722" stroke-width="0.15">O</text>
<text transform="translate(18.71 42.8) scale(1.0115 1)" fill="#f23645" font-size="12.5" stroke="#f23645" stroke-width="0.08">1.15722</text>
<text transform="translate(70.44 42.8) scale(1.0809 1)" fill="#131722" font-size="12.5" stroke="#131722" stroke-width="0.15">H</text>
<text transform="translate(81.20 42.8) scale(1.0274 1)" fill="#f23645" font-size="12.5" stroke="#f23645" stroke-width="0.08">1.15734</text>
<text transform="translate(134.19 42.8) scale(0.9357 1)" fill="#131722" font-size="12.5" stroke="#131722" stroke-width="0.15">L</text>
<text transform="translate(142.41 42.8) scale(1.0070 1)" fill="#f23645" font-size="12.5" stroke="#f23645" stroke-width="0.08">1.15550</text>
<text transform="translate(194.72 42.8) scale(0.8117 1)" fill="#131722" font-size="12.5" stroke="#131722" stroke-width="0.15">C</text>
<text transform="translate(203.79 42.8) scale(1.0365 1)" fill="#f23645" font-size="12.5" stroke="#f23645" stroke-width="0.08">1.15649</text>
<text transform="translate(257.41 42.8) scale(1.0060 1)" fill="#f23645" font-size="12.5" stroke="#f23645" stroke-width="0.08">−0.00073</text>
<text transform="translate(315.42 42.8) scale(0.9873 1)" fill="#f23645" font-size="12.5" stroke="#f23645" stroke-width="0.08">(−0.06%)</text>
</g>
<g class="t-vol">
<text transform="translate(9.40 66.9) scale(1.0648 1)" fill="#131722" font-size="12" stroke="#131722" stroke-width="0.15">Volume</text>
<text transform="translate(55.93 66.9) scale(0.8662 1)" fill="#50535e" font-size="12" stroke="#50535e" stroke-width="0.08">SMA</text>
<text transform="translate(81.94 66.9) scale(0.9956 1)" fill="#50535e" font-size="12" stroke="#50535e" stroke-width="0.08">9</text>
</g>
<g class="t-macd">
<text transform="translate(8.02 402.8) scale(0.9432 1)" fill="#131722" font-size="12" stroke="#131722" stroke-width="0.15">MACD</text>
<text transform="translate(46.39 402.8) scale(0.9413 1)" fill="#50535e" font-size="12" stroke="#50535e" stroke-width="0.08">12</text>
<text transform="translate(63.33 402.8) scale(1.0164 1)" fill="#50535e" font-size="12" stroke="#50535e" stroke-width="0.08">26</text>
<text transform="translate(81.63 402.8) scale(0.9907 1)" fill="#50535e" font-size="12" stroke="#50535e" stroke-width="0.08">close</text>
<text transform="translate(113.96 402.8) scale(1.1378 1)" fill="#50535e" font-size="12" stroke="#50535e" stroke-width="0.08">9</text>
<text transform="translate(136.41 402.8) scale(1.0070 1)" fill="#fccbcd" font-size="12.5" stroke="#fccbcd" stroke-width="0.08">−0.00072</text>
<text transform="translate(196.40 402.8) scale(1.0216 1)" fill="#2196f3" font-size="12.5" stroke="#2196f3" stroke-width="0.08">−0.00176</text>
<text transform="translate(256.41 402.8) scale(1.0070 1)" fill="#ff2e72" font-size="12.5" stroke="#ff2e72" stroke-width="0.08">−0.00105</text>
</g>
<g class="t-paxis">
<text transform="translate(744.01 23.15) scale(0.9190 1)" fill="#131722" font-size="12" stroke="#131722" stroke-width="0.15">1.17400</text>
<text transform="translate(744.01 56.6) scale(0.9190 1)" fill="#131722" font-size="12" stroke="#131722" stroke-width="0.15">1.17200</text>
<text transform="translate(744.01 90.05) scale(0.9190 1)" fill="#131722" font-size="12" stroke="#131722" stroke-width="0.15">1.17000</text>
<text transform="translate(744.01 123.5) scale(0.9190 1)" fill="#131722" font-size="12" stroke="#131722" stroke-width="0.15">1.16800</text>
<text transform="translate(744.01 156.95) scale(0.9190 1)" fill="#131722" font-size="12" stroke="#131722" stroke-width="0.15">1.16600</text>
<text transform="translate(744.01 190.4) scale(0.9190 1)" fill="#131722" font-size="12" stroke="#131722" stroke-width="0.15">1.16400</text>
<text transform="translate(744.01 223.85) scale(0.9190 1)" fill="#131722" font-size="12" stroke="#131722" stroke-width="0.15">1.16200</text>
<text transform="translate(744.01 257.3) scale(0.9190 1)" fill="#131722" font-size="12" stroke="#131722" stroke-width="0.15">1.16000</text>
<text transform="translate(744.01 290.75) scale(0.9190 1)" fill="#131722" font-size="12" stroke="#131722" stroke-width="0.15">1.15800</text>
<text transform="translate(744.01 324.2) scale(0.9190 1)" fill="#131722" font-size="12" stroke="#131722" stroke-width="0.15">1.15600</text>
<text transform="translate(744.01 357.65) scale(0.9190 1)" fill="#131722" font-size="12" stroke="#131722" stroke-width="0.15">1.15400</text>
</g>
<path d="M734 304h54a2 2 0 0 1 2 2v13a2 2 0 0 1-2 2h-54z" fill="#f23645"/>
<g class="t-last">
<text transform="translate(744.21 316.8) scale(0.9136 1)" fill="#ffffff" font-size="12" stroke="#ffffff" stroke-width="0.2">1.15649</text>
</g>
<g class="t-maxis">
<text transform="translate(743.75 416.2) scale(0.9226 1)" fill="#131722" font-size="12" stroke="#131722" stroke-width="0.15">0.00200</text>
</g>
<g class="t-maxis">
<text transform="translate(743.75 469.4) scale(0.9226 1)" fill="#131722" font-size="12" stroke="#131722" stroke-width="0.15">0.00000</text>
</g>
<g class="t-maxis">
<text transform="translate(744.19 522.5) scale(0.9066 1)" fill="#131722" font-size="12" stroke="#131722" stroke-width="0.15">−0.00200</text>
</g>
<g class="t-taxis">
<text transform="translate(84.92 590) scale(1.0222 1)" fill="#131722" font-size="12" stroke="#131722" stroke-width="0.15">9</text>
<text transform="translate(190.03 590) scale(0.9554 1)" fill="#131722" font-size="12" stroke="#131722" stroke-width="0.15">14</text>
<text transform="translate(297.78 590) scale(0.9660 1)" fill="#131722" font-size="12" stroke="#131722" stroke-width="0.15">17</text>
<text transform="translate(405.55 590) scale(0.9757 1)" fill="#131722" font-size="12" stroke="#131722" stroke-width="0.15">22</text>
<text transform="translate(507.95 590) scale(0.9757 1)" fill="#131722" font-size="12" stroke="#131722" stroke-width="0.15">26</text>
<text transform="translate(596.09 590) scale(0.9420 1)" fill="#131722" font-size="12" stroke="#131722" stroke-width="0.15">13:00</text>
<text transform="translate(683.99 590) scale(0.9411 1)" fill="#131722" font-size="12" font-weight="bold" stroke="#131722" stroke-width="0.15">Nov</text>
</g>
</svg>
</body></html>
